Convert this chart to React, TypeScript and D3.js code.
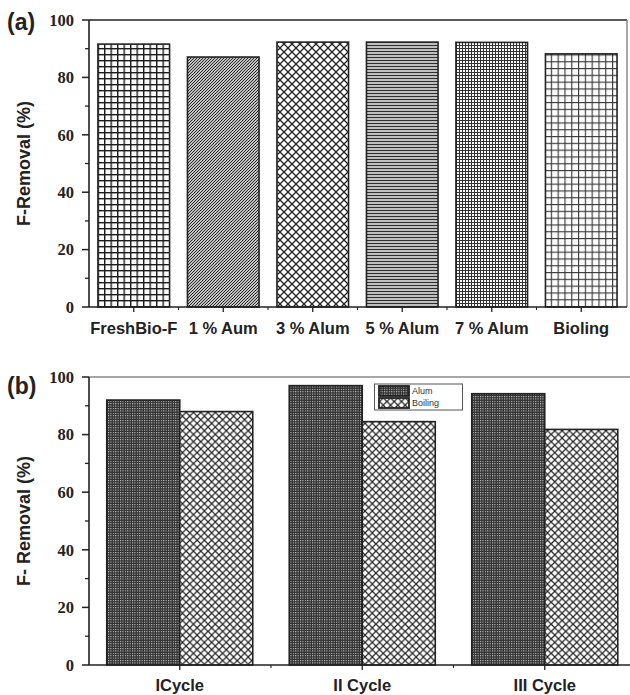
import React from "react";
import * as d3 from "d3";

const catsA = ["FreshBio-F", "1 % Aum", "3 % Alum", "5 % Alum", "7 % Alum", "Bioling"];
const valsA = [91.6, 87.1, 92.3, 92.3, 92.2, 88.2];
const patA = ["pGrid", "pDiag", "pCross", "pHoriz", "pDense", "pGrid2"];

const cycles = ["ICycle", "II Cycle", "III Cycle"];
const seriesB = ["Alum", "Boiling"];
const alumVals = [92.0, 97.0, 94.2];
const boilVals = [88.0, 84.5, 81.8];
const patB = ["pAlum", "pBoil"];

const yTicks = [0, 20, 40, 60, 80, 100];
const yMinor = [10, 30, 50, 70, 90];

const serifFont = "'Times New Roman', 'Liberation Serif', 'DejaVu Serif', serif";
const sansFont = "'Liberation Sans', Arial, sans-serif";

function Patterns() {
  return (
    <defs>
      <pattern id="pGrid" patternUnits="userSpaceOnUse" width={6.5} height={6}>
        <rect width={6.5} height={6} fill="#fff" />
        <line x1={0.7} y1={0} x2={0.7} y2={6} stroke="#1a1a1a" strokeWidth={1.4} />
        <line x1={0} y1={0.7} x2={6.5} y2={0.7} stroke="#1a1a1a" strokeWidth={1.4} />
      </pattern>
      <pattern id="pDiag" patternUnits="userSpaceOnUse" width={3} height={3}>
        <rect width={3} height={3} fill="#fff" />
        <path d="M-1,1 L1,-1 M0,3 L3,0 M2,4 L4,2" stroke="#222" strokeWidth={1.1} />
      </pattern>
      <pattern id="pCross" patternUnits="userSpaceOnUse" width={8} height={8}>
        <rect width={8} height={8} fill="#fff" />
        <path d="M0,0 L8,8 M8,0 L0,8" stroke="#222" strokeWidth={1.3} />
      </pattern>
      <pattern id="pHoriz" patternUnits="userSpaceOnUse" width={4} height={3}>
        <rect width={4} height={3} fill="#fff" />
        <line x1={0} y1={0.6} x2={4} y2={0.6} stroke="#222" strokeWidth={1.1} />
        <line x1={0} y1={2.1} x2={4} y2={2.1} stroke="#888" strokeWidth={0.9} />
      </pattern>
      <pattern id="pDense" patternUnits="userSpaceOnUse" width={3} height={3}>
        <rect width={3} height={3} fill="#fff" />
        <line x1={0.5} y1={0} x2={0.5} y2={3} stroke="#333" strokeWidth={1} />
        <line x1={0} y1={0.5} x2={3} y2={0.5} stroke="#333" strokeWidth={1} />
      </pattern>
      <pattern id="pGrid2" patternUnits="userSpaceOnUse" width={6.8} height={6.8}>
        <rect width={6.8} height={6.8} fill="#fff" />
        <line x1={0.6} y1={0} x2={0.6} y2={6.8} stroke="#333" strokeWidth={1.1} />
        <line x1={0} y1={0.6} x2={6.8} y2={0.6} stroke="#333" strokeWidth={1.1} />
      </pattern>
      <pattern id="pAlum" patternUnits="userSpaceOnUse" width={2.4} height={2.4}>
        <rect width={2.4} height={2.4} fill="#2e2e2e" />
        <rect x={0} y={0} width={1.1} height={1.1} fill="#d0d0d0" />
      </pattern>
      <pattern id="pBoil" patternUnits="userSpaceOnUse" width={7.3} height={7.3}>
        <rect width={7.3} height={7.3} fill="#fff" />
        <path d="M0,0 L7.3,7.3 M7.3,0 L0,7.3" stroke="#222" strokeWidth={1.2} />
      </pattern>
    </defs>
  );
}

function YAxis({ y, x0, labelText, labelY }: any) {
  return (
    <g>
      {yTicks.map((t) => (
        <g key={"t" + t}>
          <line x1={x0 - 7} x2={x0} y1={y(t)} y2={y(t)} stroke="#222" strokeWidth={1.5} />
          <text
            x={x0 - 15}
            y={y(t)}
            dy="0.35em"
            textAnchor="end"
            style={{ fontFamily: serifFont, fontWeight: 700, fontSize: "16.5px" }}
            fill="#222"
          >
            {t}
          </text>
        </g>
      ))}
      {yMinor.map((t) => (
        <line key={"m" + t} x1={x0 - 4} x2={x0} y1={y(t)} y2={y(t)} stroke="#222" strokeWidth={1.3} />
      ))}
      <text
        transform={`translate(30,${labelY}) rotate(-90)`}
        textAnchor="middle"
        style={{ fontFamily: sansFont, fontWeight: 700, fontSize: "18px" }}
        fill="#222"
      >
        {labelText}
      </text>
    </g>
  );
}

export default function App() {
  const W = 630;
  const H = 695;

  // Panel (a)
  const yA = d3.scaleLinear().domain([0, 100]).range([307, 20]);
  const xA = d3.scaleBand<string>().domain(catsA).range([89, 626]).paddingInner(0.2).paddingOuter(0.1);
  const stepA = xA.step();

  // Panel (b)
  const yB = d3.scaleLinear().domain([0, 100]).range([665, 377]);
  const xB = d3.scaleBand<string>().domain(cycles).range([88.5, 636]).paddingInner(0.2).paddingOuter(0.1);
  const xSub = d3.scaleBand<string>().domain(seriesB).range([0, xB.bandwidth()]);
  const stepB = xB.step();
  const valsB = [alumVals, boilVals];

  const tickStyle = { fontFamily: sansFont, fontWeight: 700, fontSize: "16.5px" };

  return (
    <div style={{ position: "absolute", left: 0, top: 0 }}>
      <svg width={W} height={H} style={{ display: "block", background: "#fff" }}>
        <Patterns />
        <rect width={W} height={H} fill="#fff" />

        {/* ===== Panel (a) ===== */}
        <text x={7} y={30} style={{ fontFamily: sansFont, fontWeight: 700, fontSize: "23px" }} fill="#222">(a)</text>
        {catsA.map((c, i) => (
          <rect
            key={c}
            x={xA(c)}
            y={yA(valsA[i])}
            width={xA.bandwidth()}
            height={yA(0) - yA(valsA[i])}
            fill={`url(#${patA[i]})`}
            stroke="#222"
            strokeWidth={1.6}
          />
        ))}
        <line x1={89} x2={627} y1={yA(100)} y2={yA(100)} stroke="#222" strokeWidth={1.3} />
        <line x1={627} x2={627} y1={yA(100)} y2={yA(0)} stroke="#777" strokeWidth={1.3} />
        <line x1={89} x2={89} y1={yA(100)} y2={yA(0)} stroke="#222" strokeWidth={1.6} />
        <line x1={89} x2={627} y1={yA(0)} y2={yA(0)} stroke="#222" strokeWidth={1.6} />
        {catsA.map((c, i) => {
          const cx = (xA(c) as number) + xA.bandwidth() / 2;
          return (
            <g key={"xa" + c}>
              <line x1={cx} x2={cx} y1={yA(0)} y2={yA(0) + 5} stroke="#222" strokeWidth={1.3} />
              {i < catsA.length - 1 && (
                <line x1={cx + stepA / 2} x2={cx + stepA / 2} y1={yA(0)} y2={yA(0) + 3} stroke="#222" strokeWidth={1.1} />
              )}
              <text x={cx} y={334} textAnchor="middle" style={tickStyle} fill="#222">
                {c}
              </text>
            </g>
          );
        })}
        <YAxis y={yA} x0={89} labelText="F-Removal (%)" labelY={(yA(0) + yA(100)) / 2} />

        {/* ===== Panel (b) ===== */}
        <text x={7} y={394} style={{ fontFamily: sansFont, fontWeight: 700, fontSize: "23px" }} fill="#222">(b)</text>
        {cycles.map((c, i) => (
          <g key={c}>
            {seriesB.map((s, j) => {
              const v = valsB[j][i];
              return (
                <rect
                  key={s}
                  x={(xB(c) as number) + (xSub(s) as number)}
                  y={yB(v)}
                  width={xSub.bandwidth()}
                  height={yB(0) - yB(v)}
                  fill={`url(#${patB[j]})`}
                  stroke="#222"
                  strokeWidth={1.6}
                />
              );
            })}
          </g>
        ))}
        <line x1={89} x2={636} y1={yB(100)} y2={yB(100)} stroke="#888" strokeWidth={1.3} />
        <line x1={89} x2={89} y1={yB(100)} y2={yB(0)} stroke="#222" strokeWidth={1.6} />
        <line x1={89} x2={636} y1={yB(0)} y2={yB(0)} stroke="#222" strokeWidth={1.6} />
        {cycles.map((c, i) => {
          const cx = (xB(c) as number) + xB.bandwidth() / 2;
          return (
            <g key={"xb" + c}>
              <line x1={cx} x2={cx} y1={yB(0)} y2={yB(0) + 5} stroke="#222" strokeWidth={1.3} />
              {i < cycles.length - 1 && (
                <line x1={cx + stepB / 2} x2={cx + stepB / 2} y1={yB(0)} y2={yB(0) + 3} stroke="#222" strokeWidth={1.1} />
              )}
              <text x={cx} y={691} textAnchor="middle" style={tickStyle} fill="#222">
                {c}
              </text>
            </g>
          );
        })}
        <YAxis y={yB} x0={89} labelText="F- Removal (%)" labelY={(yB(0) + yB(100)) / 2} />

        {/* legend */}
        <g>
          <rect x={374.5} y={384} width={88} height={26} fill="#fff" stroke="#555" strokeWidth={1} />
          {seriesB.map((s, j) => (
            <g key={"lg" + s}>
              <rect
                x={379}
                y={386 + j * 12}
                width={30}
                height={10}
                fill={`url(#${patB[j]})`}
                stroke="#222"
                strokeWidth={1.8}
              />
              <text x={412} y={391 + j * 12} dy="0.35em" style={{ fontFamily: sansFont, fontSize: "9px" }} fill="#333">
                {s}
              </text>
            </g>
          ))}
        </g>
      </svg>
    </div>
  );
}
